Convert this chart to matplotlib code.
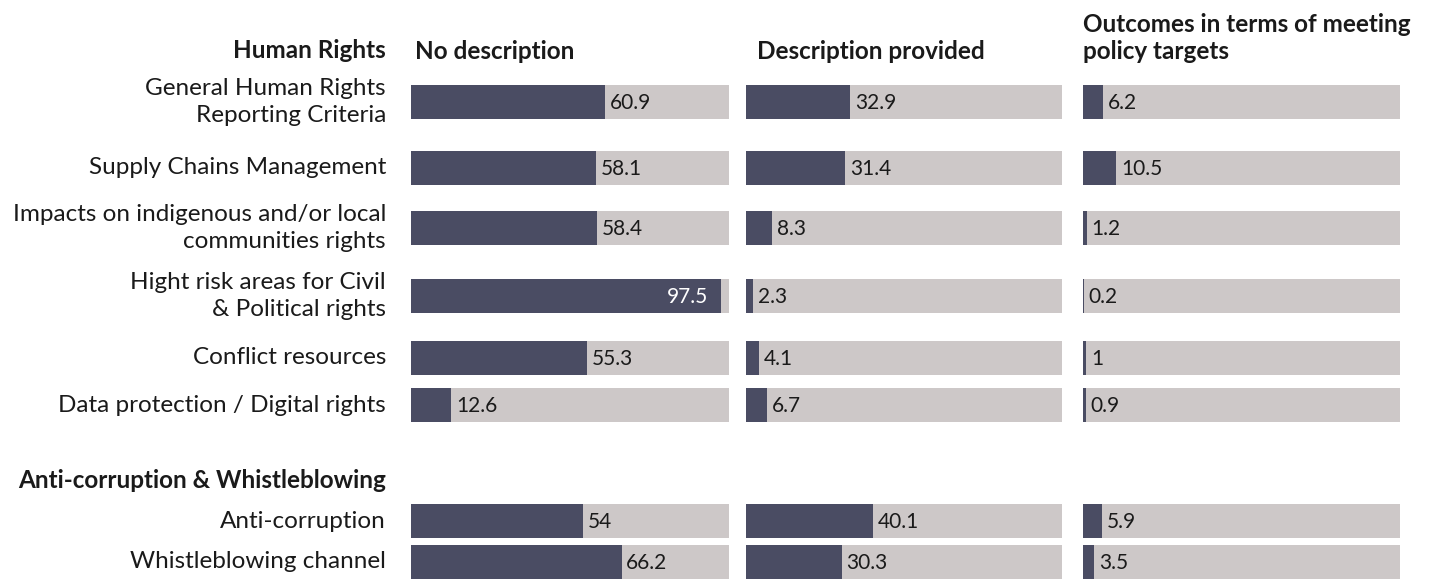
import matplotlib.pyplot as plt

plt.rcParams['font.family'] = ['Lato', 'DejaVu Sans']

labels = ['General Human Rights\nReporting Criteria', 'Supply Chains Management',
          'Impacts on indigenous and/or local\ncommunities rights',
          'Hight risk areas for Civil\n& Political rights', 'Conflict resources',
          'Data protection / Digital rights', 'Anti-corruption', 'Whistleblowing channel']
no_description = [60.9, 58.1, 58.4, 97.5, 55.3, 12.6, 54, 66.2]
description_provided = [32.9, 31.4, 8.3, 2.3, 4.1, 6.7, 40.1, 30.3]
outcomes = [6.2, 10.5, 1.2, 0.2, 1, 0.9, 5.9, 3.5]
columns = ['No description', 'Description provided',
           'Outcomes in terms of meeting\npolicy targets']
groups = ['Human Rights', 'Anti-corruption & Whistleblowing']

# layout in pixels (figure is 1429 x 583)
W, H = 1429, 583
row_y = [102, 168, 228, 296, 358, 405, 521, 562]
bar_h = 34
col_x = [(411, 729), (746, 1062), (1083, 1400)]
title_pad = [1.3, 3.5, 0]
dark = '#4a4c63'
light = '#cdc8c8'
txt = '#1a1a1a'

fig = plt.figure(figsize=(W / 100, H / 100), dpi=100)

for (x0, x1), vals, title, pad in zip(col_x, [no_description, description_provided, outcomes],
                                      columns, title_pad):
    ax = fig.add_axes([x0 / W, 0, (x1 - x0) / W, 1])
    ax.set_xlim(0, 100)
    ax.set_ylim(H, 0)
    ax.axis('off')
    ax.barh(row_y, [100] * len(vals), height=bar_h, color=light)
    ax.barh(row_y, vals, height=bar_h, color=dark)
    for y, v in zip(row_y, vals):
        s = f'{v:g}'
        if v > 90:
            ax.text(v - 4, y + 1, s, ha='right', va='center', fontsize=15,
                    color='white')
        else:
            ax.text(v + 1.5, y + 1, s, ha='left', va='center', fontsize=15,
                    color=txt)
    ax.text(pad, 63, title, ha='left', va='bottom', fontsize=17.5,
            fontweight='bold', color=txt, linespacing=1.2)

lab = fig.add_axes([0, 0, 1, 1])
lab.set_xlim(0, W)
lab.set_ylim(H, 0)
lab.axis('off')
for y, l in zip(row_y, labels):
    lab.text(386, y, l, ha='right', va='center', fontsize=17.5,
             color=txt, linespacing=1.4)
lab.text(386, 50, groups[0], ha='right', va='center', fontsize=17.5, fontweight='bold', color=txt)
lab.text(386, 480, groups[1], ha='right', va='center', fontsize=17.5, fontweight='bold', color=txt)

fig.savefig('out.png', dpi=100)
